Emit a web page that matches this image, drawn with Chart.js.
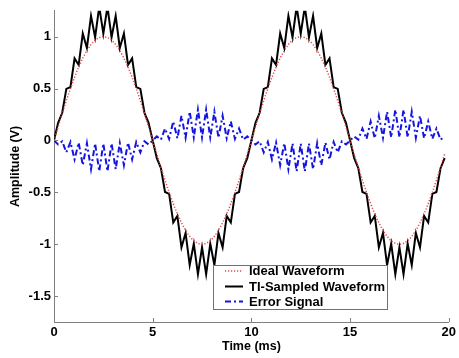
<!DOCTYPE html>
<html>
<head>
<meta charset="utf-8">
<script src="https://cdn.jsdelivr.net/npm/chart.js@4.4.0/dist/chart.umd.min.js"></script>
<style>
	html, body { margin: 0; padding: 0; background: #fff; }
	#wrap { width: 459px; height: 358px; }
</style>
</head>
<body>
<div id="wrap"><canvas id="chart" width="459" height="358"></canvas></div>
<script>
// Sample instants (ms)
const timeMs = [
	0, 0.208, 0.417, 0.625, 0.833, 1.042, 1.25, 1.458, 1.667, 1.875, 2.083, 2.292,
	2.5, 2.708, 2.917, 3.125, 3.333, 3.542, 3.75, 3.958, 4.167, 4.375, 4.583, 4.792,
	5, 5.208, 5.417, 5.625, 5.833, 6.042, 6.25, 6.458, 6.667, 6.875, 7.083, 7.292,
	7.5, 7.708, 7.917, 8.125, 8.333, 8.542, 8.75, 8.958, 9.167, 9.375, 9.583, 9.792,
	10, 10.208, 10.417, 10.625, 10.833, 11.042, 11.25, 11.458, 11.667, 11.875, 12.083, 12.292,
	12.5, 12.708, 12.917, 13.125, 13.333, 13.542, 13.75, 13.958, 14.167, 14.375, 14.583, 14.792,
	15, 15.208, 15.417, 15.625, 15.833, 16.042, 16.25, 16.458, 16.667, 16.875, 17.083, 17.292,
	17.5, 17.708, 17.917, 18.125, 18.333, 18.542, 18.75, 18.958, 19.167, 19.375, 19.583, 19.792
];

// Ideal waveform (V)
const idealWave = [
	0, 0.131, 0.259, 0.383, 0.5, 0.609, 0.707, 0.793, 0.866, 0.924, 0.966, 0.991,
	1, 0.991, 0.966, 0.924, 0.866, 0.793, 0.707, 0.609, 0.5, 0.383, 0.259, 0.131,
	0, -0.131, -0.259, -0.383, -0.5, -0.609, -0.707, -0.793, -0.866, -0.924, -0.966, -0.991,
	-1, -0.991, -0.966, -0.924, -0.866, -0.793, -0.707, -0.609, -0.5, -0.383, -0.259, -0.131,
	0, 0.131, 0.259, 0.383, 0.5, 0.609, 0.707, 0.793, 0.866, 0.924, 0.966, 0.991,
	1, 0.991, 0.966, 0.924, 0.866, 0.793, 0.707, 0.609, 0.5, 0.383, 0.259, 0.131,
	0, -0.131, -0.259, -0.383, -0.5, -0.609, -0.707, -0.793, -0.866, -0.924, -0.966, -0.991,
	-1, -0.991, -0.966, -0.924, -0.866, -0.793, -0.707, -0.609, -0.5, -0.383, -0.259, -0.131
];

// TI-sampled waveform (V)
const tiSampled = [
	0, 0.17, 0.267, 0.497, 0.515, 0.791, 0.728, 1.031, 0.892, 1.201, 0.995, 1.289,
	1.03, 1.289, 0.995, 1.201, 0.892, 1.031, 0.728, 0.791, 0.515, 0.497, 0.267, 0.17,
	0, -0.17, -0.267, -0.497, -0.515, -0.791, -0.728, -1.031, -0.892, -1.201, -0.995, -1.289,
	-1.03, -1.289, -0.995, -1.201, -0.892, -1.031, -0.728, -0.791, -0.515, -0.497, -0.267, -0.17,
	0, 0.17, 0.267, 0.497, 0.515, 0.791, 0.728, 1.031, 0.892, 1.201, 0.995, 1.289,
	1.03, 1.289, 0.995, 1.201, 0.892, 1.031, 0.728, 0.791, 0.515, 0.497, 0.267, 0.17,
	0, -0.17, -0.267, -0.497, -0.515, -0.791, -0.728, -1.031, -0.892, -1.201, -0.995, -1.289,
	-1.03, -1.289, -0.995, -1.201, -0.892, -1.031, -0.728, -0.791, -0.515, -0.497, -0.267, -0.17
];

// Error signal (V)
const errorSignal = [
	0, -0.039, -0.008, -0.115, -0.015, -0.183, -0.021, -0.238, -0.026, -0.277, -0.029, -0.297,
	-0.03, -0.297, -0.029, -0.277, -0.026, -0.238, -0.021, -0.183, -0.015, -0.115, -0.008, -0.039,
	0, 0.039, 0.008, 0.115, 0.015, 0.183, 0.021, 0.238, 0.026, 0.277, 0.029, 0.297,
	0.03, 0.297, 0.029, 0.277, 0.026, 0.238, 0.021, 0.183, 0.015, 0.115, 0.008, 0.039,
	0, -0.039, -0.008, -0.115, -0.015, -0.183, -0.021, -0.238, -0.026, -0.277, -0.029, -0.297,
	-0.03, -0.297, -0.029, -0.277, -0.026, -0.238, -0.021, -0.183, -0.015, -0.115, -0.008, -0.039,
	0, 0.039, 0.008, 0.115, 0.015, 0.183, 0.021, 0.238, 0.026, 0.277, 0.029, 0.297,
	0.03, 0.297, 0.029, 0.277, 0.026, 0.238, 0.021, 0.183, 0.015, 0.115, 0.008, 0.039
];

const xTickValues = [0, 5, 10, 15, 20];
const yTickValues = [-1.5, -1, -0.5, 0, 0.5, 1];
const seriesNames = ['Ideal Waveform', 'TI-Sampled Waveform', 'Error Signal'];

const FONT = '"Liberation Sans", Arial, sans-serif';
const AXIS_GRAY = '#808080';

function toPoints(values) {
	return values.map(function(v, i) { return { x: timeMs[i], y: v }; });
}

/**
 * MATLAB-style inward tick marks
 */
const innerTicks = {
	id: 'innerTicks',
	afterDraw: function(chart) {
		const ctx = chart.ctx;
		const area = chart.chartArea;
		const xs = chart.scales.x;
		const ys = chart.scales.y;
		ctx.save();
		ctx.strokeStyle = AXIS_GRAY;
		ctx.lineWidth = 1;
		ctx.beginPath();
		xTickValues.forEach(function(v) {
			const px = Math.round(xs.getPixelForValue(v)) + 0.5;
			ctx.moveTo(px, area.bottom);
			ctx.lineTo(px, area.bottom - 4);
		});
		yTickValues.forEach(function(v) {
			const py = Math.round(ys.getPixelForValue(v)) + 0.5;
			ctx.moveTo(area.left, py);
			ctx.lineTo(area.left + 4, py);
		});
		ctx.stroke();
		ctx.restore();
	}
};

/**
 * Boxed legend inside the axes, lower right
 */
const boxLegend = {
	id: 'boxLegend',
	afterDraw: function(chart) {
		const ctx = chart.ctx;
		const box = { left: 213.5, top: 265.5, width: 174, height: 44 };
		const rows = [271, 286.5, 301.5];
		ctx.save();
		ctx.fillStyle = '#fff';
		ctx.fillRect(box.left, box.top, box.width, box.height);
		ctx.strokeStyle = '#707070';
		ctx.lineWidth = 1;
		ctx.strokeRect(box.left, box.top, box.width, box.height);

		chart.data.datasets.forEach(function(ds, i) {
			ctx.beginPath();
			ctx.strokeStyle = ds.borderColor;
			ctx.lineWidth = ds.borderWidth;
			ctx.setLineDash(ds.borderDash || []);
			ctx.moveTo(225, rows[i]);
			ctx.lineTo(243, rows[i]);
			ctx.stroke();
			ctx.setLineDash([]);
			ctx.fillStyle = '#000';
			ctx.font = 'bold 13px ' + FONT;
			ctx.textBaseline = 'middle';
			ctx.textAlign = 'left';
			ctx.fillText(ds.label, 249, rows[i] + 0.5);
		});
		ctx.restore();
	}
};

const ctx = document.getElementById('chart').getContext('2d');

new Chart(ctx, {
	type: 'line',
	data: {
		datasets: [
			{
				label: seriesNames[0],
				data: toPoints(idealWave),
				borderColor: '#e04848',
				borderWidth: 1.5,
				borderDash: [1.2, 1.8],
				cubicInterpolationMode: 'monotone',
				pointRadius: 0
			},
			{
				label: seriesNames[1],
				data: toPoints(tiSampled),
				borderColor: '#000',
				borderWidth: 2,
				borderJoinStyle: 'miter',
				pointRadius: 0
			},
			{
				label: seriesNames[2],
				data: toPoints(errorSignal),
				borderColor: '#1414e0',
				borderWidth: 2,
				borderDash: [6, 3, 2, 3],
				borderJoinStyle: 'miter',
				pointRadius: 0
			}
		]
	},
	options: {
		responsive: false,
		animation: false,
		devicePixelRatio: 1,
		layout: { padding: { top: 7, right: 7, left: 0, bottom: 0 } },
		plugins: {
			legend: { display: false },
			tooltip: { enabled: false }
		},
		scales: {
			x: {
				type: 'linear',
				min: 0,
				max: 20,
				afterBuildTicks: function(scale) {
					scale.ticks = xTickValues.map(function(v) { return { value: v }; });
				},
				afterFit: function(scale) { scale.height = 36; },
				ticks: {
					color: '#000',
					font: { family: FONT, size: 13, weight: 'bold' },
					padding: 3,
					maxRotation: 0,
					autoSkip: false,
					callback: function(v) { return String(v); }
				},
				grid: { display: false, drawTicks: false },
				border: { display: true, color: AXIS_GRAY, width: 1 },
				title: {
					display: true,
					text: 'Time (ms)',
					color: '#000',
					font: { family: FONT, size: 12.5, weight: 'bold' },
					padding: { top: 0, bottom: 4 }
				}
			},
			y: {
				type: 'linear',
				min: -1.75,
				max: 1.25,
				afterBuildTicks: function(scale) {
					scale.ticks = yTickValues.map(function(v) { return { value: v }; });
				},
				afterFit: function(scale) { scale.width = 54; },
				ticks: {
					color: '#000',
					font: { family: FONT, size: 13, weight: 'bold' },
					padding: 3,
					callback: function(v) { return String(v); }
				},
				grid: { display: false, drawTicks: false },
				border: { display: true, color: AXIS_GRAY, width: 1 },
				title: {
					display: true,
					text: 'Amplitude (V)',
					color: '#000',
					font: { family: FONT, size: 12.5, weight: 'bold' },
					padding: { top: 8, bottom: 0 }
				}
			}
		}
	},
	plugins: [innerTicks, boxLegend]
});
</script>
</body>
</html>
